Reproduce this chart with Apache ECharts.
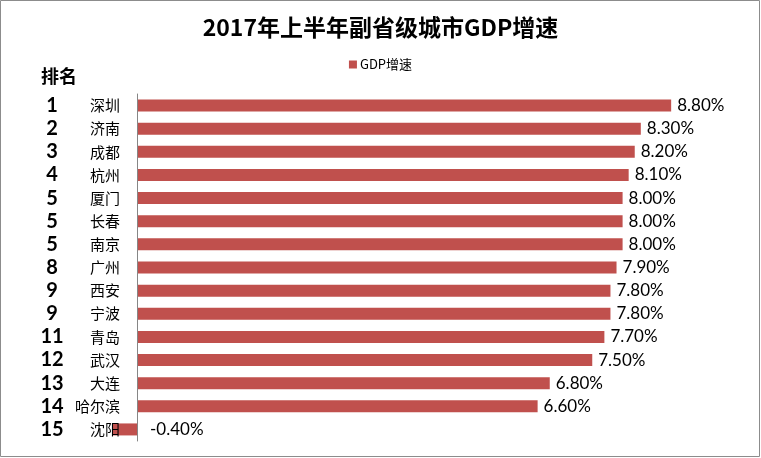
<!DOCTYPE html>
<html><head><meta charset="utf-8">
<script src="https://cdn.jsdelivr.net/npm/echarts@6/dist/echarts.min.js"></script>
<style>html,body{margin:0;padding:0;background:#fff}#c{width:761px;height:458px}</style>
</head><body><div id="c"></div>
<script>
const ranks = ['1','2','3','4','5','5','5','8','9','9','11','12','13','14','15'];
const cities = ['深圳','济南','成都','杭州','厦门','长春','南京','广州','西安','宁波','青岛','武汉','大连','哈尔滨','沈阳'];
const growth = [8.8,8.3,8.2,8.1,8.0,8.0,8.0,7.9,7.8,7.8,7.7,7.5,6.8,6.6,-0.4];

const chart = echarts.init(document.getElementById('c'));
const cjk = '"Noto Sans CJK SC", "Microsoft YaHei", sans-serif';
chart.setOption({
  animation: false,
  graphic: [{type:'rect', shape:{x:0.5,y:0.5,width:759,height:456}, style:{fill:'none', stroke:'#8c8c8c', lineWidth:1}, silent:true}],
  title: [
    {text:'2017年上半年副省级城市GDP增速', left:'center', top:11,
     textStyle:{fontFamily:cjk, fontSize:23, fontWeight:'bold', color:'#000'}},
    {text:'排名', left:36, top:62, textStyle:{fontFamily:cjk, fontSize:18, fontWeight:'bold', color:'#000'}}
  ],
  legend: {data:['GDP增速'], top:53, left:'center', icon:'rect', itemWidth:8, itemHeight:8, itemGap:4,
    textStyle:{fontFamily:cjk, fontSize:13, color:'#000', padding:[0,0,0,-2]}},
  grid: {left:137, right:17, top:94, bottom:17, containLabel:false, outerBoundsMode:'none'},
  xAxis: {type:'value', min:0, max:10, show:false},
  yAxis: [
    {type:'category', data:cities, inverse:true, z:5,
      axisLine:{show:true, onZero:false, lineStyle:{color:'#868686', width:1}},
      axisTick:{show:false},
      axisLabel:{margin:17, interval:0, fontFamily:cjk, fontSize:15, color:'#000'}},
    {type:'category', data:cities, inverse:true, position:'left', z:5,
      axisLine:{show:false, onZero:false}, axisTick:{show:false},
      axisLabel:{margin:85, interval:0, align:'center', formatter:(v,i)=>ranks[i],
        fontFamily:'Lato, sans-serif', fontSize:20, fontWeight:'bold', color:'#000'}}
  ],
  series: [{
    name:'GDP增速', type:'bar', barWidth:12, clip:false, yAxisIndex:0, z:1,
    itemStyle:{color:'#C0504D'},
    data: growth.map(v => v < 0 ? {value:v, label:{position:'right', distance:13}} : v),
    label:{show:true, position:'right', distance:6, fontFamily:'Lato, sans-serif', fontSize:17, color:'#000',
      formatter:p=>p.value.toFixed(2)+'%'}
  }]
});
</script></body></html>
